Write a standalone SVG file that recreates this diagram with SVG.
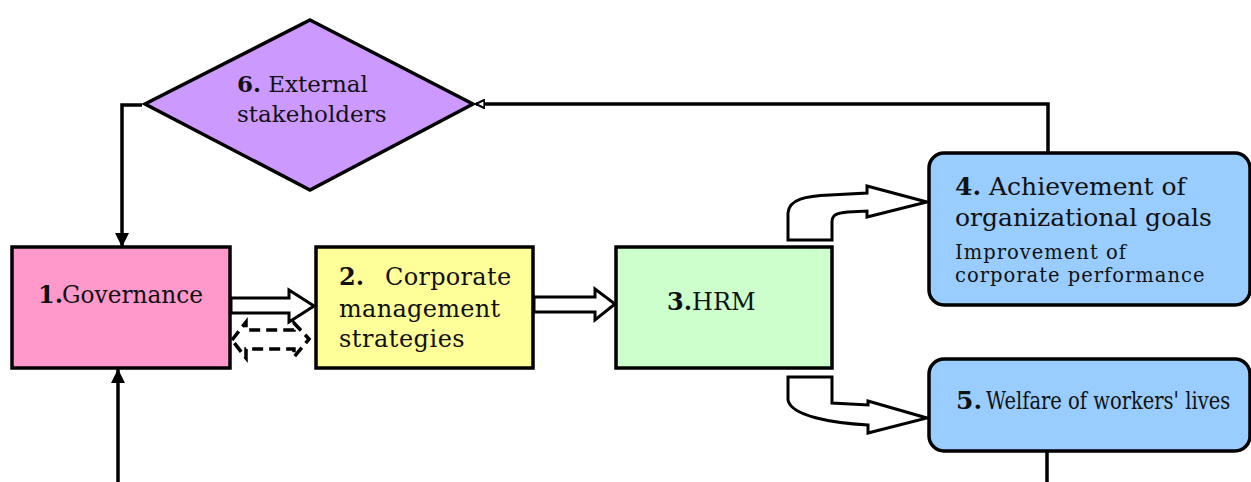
<svg xmlns="http://www.w3.org/2000/svg" width="1251" height="482" viewBox="0 0 1251 482">
  <defs>
    <style>
      .box { stroke: #000; stroke-width: 3.5; }
      .t { font-family: "DejaVu Serif", "Liberation Serif", serif; fill: #111; }
      .b { font-weight: bold; }
      .wire { fill: none; stroke: #000; stroke-width: 3.5; }
      .block { fill: #fff; stroke: #000; stroke-width: 3; stroke-linejoin: miter; }
      .dash { fill: #fff; stroke: #000; stroke-width: 3.5; stroke-dasharray: 11 6; }
    </style>
    <marker id="solidHead" viewBox="0 0 10 10" refX="10" refY="5" markerWidth="4" markerHeight="4.5" orient="auto" markerUnits="strokeWidth">
      <path d="M0,0 L10,5 L0,10 Z" fill="#000"/>
    </marker>
    <marker id="openHead" viewBox="0 0 10 10" refX="9" refY="5" markerWidth="3" markerHeight="3" orient="auto" markerUnits="strokeWidth">
      <path d="M1,1 L9,5 L1,9 Z" fill="#fff" stroke="#000" stroke-width="2"/>
    </marker>
  </defs>

  <rect width="1251" height="482" fill="#fff"/>

  <!-- connectors -->
  <g id="connectors">
    <!-- diamond to governance -->
    <polyline class="wire" points="142,105 122,105 122,247" marker-end="url(#solidHead)"/>
    <!-- loop from below into governance -->
    <line class="wire" x1="118" y1="482" x2="118" y2="369" marker-end="url(#solidHead)"/>
    <!-- goals back to stakeholders -->
    <polyline class="wire" points="1048,153 1048,104 476,104" marker-end="url(#openHead)"/>
    <!-- welfare continues downward -->
    <line class="wire" x1="1047" y1="451" x2="1047" y2="482"/>

    <!-- governance to strategies -->
    <path class="block" d="M231,298 L289,298 L289,290 L314,306 L289,322 L289,313 L231,313 Z"/>
    <!-- dashed two-way feedback -->
    <path class="dash" d="M232,340 L246,322 L246,330 L294,330 L294,323 L309,339 L294,357 L294,349 L246,349 L246,358 Z"/>
    <!-- strategies to HRM -->
    <path class="block" d="M534,297 L595,297 L595,289 L615,304 L595,320 L595,312 L534,312 Z"/>
    <!-- HRM up to goals -->
    <path class="block" d="M788,240 L788,213 C789,199 806,196 830,195 L867,193 L867,186 L927,202 L867,217 L867,211 L848,212 C836,213 832,215 832,222 L832,240 Z"/>
    <!-- HRM down to welfare -->
    <path class="block" d="M788,377 L832,377 L832,403 L868,405 L868,401 L927,418 L868,433 L868,425 C832,423 791,416 788,400 Z"/>
  </g>

  <!-- 6. External stakeholders -->
  <g id="node6">
    <polygon class="box" points="310,20 473,104 310,190 145,104" fill="#CC99FF"/>
    <text class="t" font-size="23" x="237" y="92"><tspan class="b">6.</tspan> External</text>
    <text class="t" font-size="23" x="237" y="122">stakeholders</text>
  </g>

  <!-- 1. Governance -->
  <g id="node1">
    <rect class="box" x="12" y="247" width="218" height="121" fill="#FF99CC"/>
    <text class="t b" font-size="24" x="38" y="303">1.</text>
    <text class="t" font-size="24" x="62" y="303" textLength="141" lengthAdjust="spacingAndGlyphs">Governance</text>
  </g>

  <!-- 2. Corporate management strategies -->
  <g id="node2">
    <rect class="box" x="316" y="247" width="217" height="121" fill="#FFFF99"/>
    <text class="t b" font-size="24" x="339" y="285">2.</text>
    <text class="t" font-size="24" x="385" y="285" letter-spacing="0.3">Corporate</text>
    <text class="t" font-size="24" x="339" y="317" letter-spacing="0.3">management</text>
    <text class="t" font-size="24" x="339" y="347" letter-spacing="0.5">strategies</text>
  </g>

  <!-- 3. HRM -->
  <g id="node3">
    <rect class="box" x="616" y="247" width="216" height="121" fill="#CCFFCC"/>
    <text class="t" font-size="24" x="667" y="310"><tspan class="b">3.</tspan>HRM</text>
  </g>

  <!-- 4. Achievement of organizational goals -->
  <g id="node4">
    <rect class="box" x="929" y="153" width="321" height="152" rx="15" fill="#99CCFF"/>
    <text class="t" font-size="25" x="955" y="195"><tspan class="b">4.</tspan> Achievement of</text>
    <text class="t" font-size="25" x="955" y="226">organizational goals</text>
    <text class="t" font-size="19.5" x="955" y="259" letter-spacing="1">Improvement of</text>
    <text class="t" font-size="19.5" x="955" y="282" letter-spacing="1">corporate performance</text>
  </g>

  <!-- 5. Welfare of workers' lives (horizontally condensed line) -->
  <g id="node5">
    <rect class="box" x="929" y="359" width="321" height="92" rx="15" fill="#99CCFF"/>
    <text class="t b" font-size="25" x="956" y="409">5.</text>
    <text class="t" font-size="25" transform="translate(986,409) scale(0.78,1)">Welfare of workers' lives</text>
  </g>
</svg>
